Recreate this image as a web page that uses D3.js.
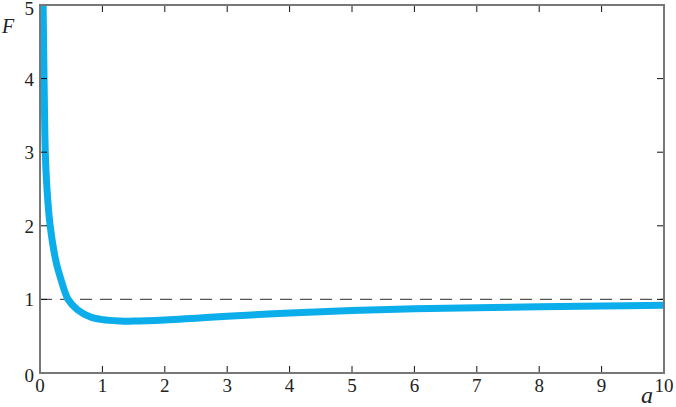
<!DOCTYPE html>
<html>
<head>
  <style type="text/css">
    body { margin: 0; background: #fff; }
  </style>
</head>
<body>
<svg></svg>
<script src="https://d3js.org/d3.v7.min.js"></script>
<script>
    var width = 676;
    var height = 407;

    // curve values
    var aValues = [0.035, 0.05, 0.065, 0.085, 0.112, 0.163, 0.26, 0.34, 0.45, 0.6, 0.8, 1.0, 1.28, 1.5, 2, 2.5, 3, 4, 5, 6, 7, 8, 9, 10];
    var fValues = [5.6, 5.0, 4.0, 3.0, 2.5, 2.0, 1.5, 1.26, 1.0, 0.86, 0.765, 0.725, 0.707, 0.705, 0.72, 0.745, 0.77, 0.815, 0.85, 0.872, 0.888, 0.9, 0.91, 0.92];
    var xTicks = [0, 1, 2, 3, 4, 5, 6, 7, 8, 9, 10];
    var yTicks = [0, 1, 2, 3, 4, 5];
    var refLevel = 1;

    var margin = {left: 40, right: 12, top: 5, bottom: 34};
    var serif = 'Liberation Serif, Times New Roman, serif';

    var svg = d3.select('svg')
      .attr('width', width)
      .attr('height', height)
      .style('font-family', serif);

    var x = d3.scaleLinear().domain([0, 10]).range([margin.left, width - margin.right]);
    var y = d3.scaleLinear().domain([0, 5]).range([height - margin.bottom, margin.top]);

    svg.append('clipPath').attr('id', 'plot')
      .append('rect')
      .attr('x', x(0)).attr('y', y(5))
      .attr('width', x(10) - x(0)).attr('height', y(0) - y(5));

    // reference line F = 1
    svg.append('line')
      .attr('x1', x(0)).attr('x2', x(10))
      .attr('y1', y(refLevel)).attr('y2', y(refLevel))
      .attr('stroke', '#555').attr('stroke-width', 1.3)
      .attr('stroke-dasharray', '12,8');

    var pts = aValues.map(function(a, i) { return [a, fValues[i]]; });
    var line = d3.line()
      .x(function(d) { return x(d[0]); })
      .y(function(d) { return y(d[1]); })
      .curve(d3.curveCatmullRom.alpha(0.5));

    svg.append('path')
      .datum(pts)
      .attr('clip-path', 'url(#plot)')
      .attr('d', line)
      .attr('fill', 'none')
      .attr('stroke', '#0BAEEA')
      .attr('stroke-width', 7)
      .attr('stroke-linejoin', 'round');

    // inner ticks, on all four sides
    var inner = xTicks.slice(1, -1);
    var g = svg.append('g').attr('stroke', '#111').attr('stroke-width', 1);
    g.selectAll('.xb').data(inner).enter().append('line')
      .attr('x1', function(d) { return x(d); }).attr('x2', function(d) { return x(d); })
      .attr('y1', y(0)).attr('y2', y(0) - 7);
    g.selectAll('.xt').data(inner).enter().append('line')
      .attr('x1', function(d) { return x(d); }).attr('x2', function(d) { return x(d); })
      .attr('y1', y(5)).attr('y2', y(5) + 7);
    var innerY = yTicks.slice(1, -1);
    g.selectAll('.yl').data(innerY).enter().append('line')
      .attr('x1', x(0)).attr('x2', x(0) + 7)
      .attr('y1', function(d) { return y(d); }).attr('y2', function(d) { return y(d); });
    g.selectAll('.yr').data(innerY).enter().append('line')
      .attr('x1', x(10)).attr('x2', x(10) - 7)
      .attr('y1', function(d) { return y(d); }).attr('y2', function(d) { return y(d); });

    // frame
    svg.append('rect')
      .attr('x', x(0)).attr('y', y(5))
      .attr('width', x(10) - x(0)).attr('height', y(0) - y(5))
      .attr('fill', 'none').attr('stroke', '#777').attr('stroke-width', 2);

    svg.selectAll('.xl').data(xTicks).enter().append('text')
      .attr('x', function(d) { return x(d); })
      .attr('y', y(0) + 19)
      .attr('text-anchor', 'middle')
      .style('font-family', serif)
      .attr('font-size', 19)
      .attr('fill', '#222')
      .text(function(d) { return d; });

    svg.selectAll('.yl2').data(yTicks).enter().append('text')
      .attr('x', 34)
      .attr('y', function(d) { return y(d) + (d === 0 ? 9 : d === 5 ? 10 : 7); })
      .attr('text-anchor', 'end')
      .style('font-family', serif)
      .attr('font-size', 19)
      .attr('fill', '#222')
      .text(function(d) { return d; });

    svg.append('text').attr('x', 2).attr('y', 33)
      .style('font-family', serif)
      .attr('font-size', 20).attr('font-style', 'italic').attr('fill', '#222').text('F');
    svg.append('text').attr('x', 641).attr('y', 403)
      .style('font-family', serif)
      .attr('font-size', 24).attr('font-style', 'italic').attr('fill', '#222').text('a');
</script>
</body>
</html>
